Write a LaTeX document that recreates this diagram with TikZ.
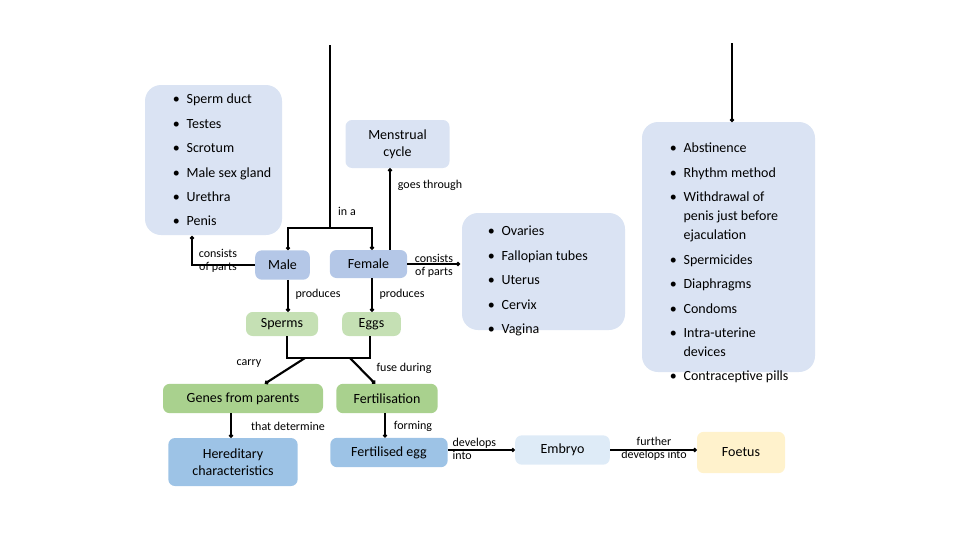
\documentclass[tikz,border=0pt]{standalone}
\usepackage{fontspec}
\setmainfont{Carlito}
\usetikzlibrary{arrows.meta}
\definecolor{lb}{HTML}{DAE3F3}
\definecolor{mb}{HTML}{B4C7E7}
\definecolor{lg}{HTML}{C5E0B4}
\definecolor{mg}{HTML}{A9D18E}
\definecolor{bb}{HTML}{9DC3E6}
\definecolor{eb}{HTML}{DEEBF7}
\definecolor{yl}{HTML}{FFF2CC}
\begin{document}
\begin{tikzpicture}[x=0.75pt,y=-0.75pt,
 box/.style={rounded corners=5pt,inner sep=0pt,align=center,font=\fontsize{10.5}{13}\selectfont},
 list/.style={rounded corners=12pt,fill=lb},
 lab/.style={font=\fontsize{9}{10}\selectfont,inner sep=1pt,align=center},
 ln/.style={line width=1.1pt},
 con/.style={line width=1.1pt,-{Circle[length=3pt]}}]
\useasboundingbox (0,0) rectangle (960,540);
% boxes
\fill[list] (145,85) rectangle (282,235);
\node[anchor=north west,align=left,font=\fontsize{10.5}{14.3}\selectfont,inner sep=0pt] (mlist) at (153,94) {%
\begin{minipage}{120pt}\raggedright
\begin{itemize}\setlength\itemsep{0pt}\setlength\parsep{0pt}\setlength\leftmargin{20pt}
\item Sperm duct\item Testes\item Scrotum\item Male sex gland\item Urethra\item Penis\end{itemize}\end{minipage}};
\node[box,fill=lb,minimum width=78pt,minimum height=36pt] (mc) at (397.5,144) {Menstrual\\cycle};
\node[box,fill=mb,minimum width=41pt,minimum height=22pt] (male) at (282.5,265) {Male};
\node[box,fill=mb,minimum width=58pt,minimum height=21pt] (female) at (368.5,264) {Female};
\fill[list] (462,213) rectangle (625,330);
\node[anchor=north west,font=\fontsize{10.5}{14.3}\selectfont,inner sep=0pt] (flist) at (468,226) {%
\begin{minipage}{115pt}\raggedright
\begin{itemize}\setlength\itemsep{0pt}\setlength\parsep{0pt}
\item Ovaries\item Fallopian tubes\item Uterus\item Cervix\item Vagina\end{itemize}\end{minipage}};
\fill[list] (642,122) rectangle (815,372);
\node[anchor=north west,font=\fontsize{10.5}{14.3}\selectfont,inner sep=0pt] (clist) at (650,143) {%
\begin{minipage}{122pt}\raggedright
\begin{itemize}\setlength\itemsep{0pt}\setlength\parsep{0pt}
\item Abstinence\item Rhythm method\item Withdrawal of\\penis just before\\ejaculation\item Spermicides\item Diaphragms\item Condoms\item Intra-uterine\\devices\item Contraceptive pills\end{itemize}\end{minipage}};
\node[box,fill=lg,minimum width=54pt,minimum height=18pt] (sp) at (282,324) {Sperms};
\node[box,fill=lg,minimum width=44pt,minimum height=18pt] (eg) at (371.5,324) {Eggs};
\node[box,fill=mg,minimum width=120pt,minimum height=22pt] (genes) at (243,398.5) {Genes from parents};
\node[box,fill=mg,minimum width=76pt,minimum height=22pt] (fert) at (387,398.5) {Fertilisation};
\node[box,fill=bb,minimum width=97pt,minimum height=36pt] (her) at (233,462) {Hereditary\\characteristics};
\node[box,fill=bb,minimum width=88pt,minimum height=22pt] (fe) at (389,452.5) {Fertilised egg};
\node[box,fill=eb,minimum width=71pt,minimum height=22pt] (emb) at (562.5,450) {Embryo};
\node[box,fill=yl,minimum width=66pt,minimum height=31pt] (foe) at (741,452.5) {Foetus};
% connectors
\coordinate (top1) at (330,45);
\coordinate (j1) at (330,228);
\draw[line width=1.8pt] (top1) -- (330,157);
\draw[ln] (330,157) -- (j1);
\draw[con] (j1) -- (288,228) -- (male.north-|288,0);
\draw[con] (j1) -- (372,228) -- (female.north-|372,0);
\draw[con] (female.north-|390,0) -- (mc.south-|390,0);
\draw[con] (male.west) -- (192,265) -- (192,236);
\draw[con] (female.east) -- (460,264);
\draw[con] (male.south-|288,0) -- (sp.north-|288,0);
\draw[con] (female.south-|372,0) -- (eg.north-|372,0);
\coordinate (j2) at (305,358); \coordinate (j3) at (350,358);
\draw[line width=1.6pt] (sp.south-|287,0) -- (287,358) -- (370,358) -- (eg.south-|370,0);
\draw[line width=1.6pt,-{Circle[length=3pt]}] (j2) -- (genes.north-|265,0);
\draw[line width=1.6pt,-{Circle[length=3pt]}] (j3) -- (fert.north-|375,0);
\draw[con] (genes.south-|231,0) -- (her.north-|231,0);
\draw[con] (fert.south-|385,0) -- (fe.north-|385,0);
\draw[con] (fe.east|-0,450) -- (emb.west);
\draw[con] (emb.east) -- (foe.west|-0,450);
\coordinate (top2) at (732,43);
\draw[con] (top2) -- (732,122);
% labels
\node[lab] (l1) at (347,211) {in a};
\node[lab] (l2) at (430,185) {goes through};
\node[lab] (l3) at (218,261) {consists\\of parts};
\node[lab] (l4) at (434,266) {consists\\of parts};
\node[lab] (l5) at (318,294) {produces};
\node[lab] (l6) at (402,294) {produces};
\node[lab] (l7) at (249,364) {carry};
\node[lab] (l8) at (404,368) {fuse during};
\node[lab] (l9) at (288,426) {that determine};
\node[lab] (l10) at (413,426) {forming};
\node[lab,align=left,anchor=west] (l11) at (451,449) {develops\\into};
\node[lab] (l12) at (654,449) {further\\develops into};
\end{tikzpicture}
\end{document}
